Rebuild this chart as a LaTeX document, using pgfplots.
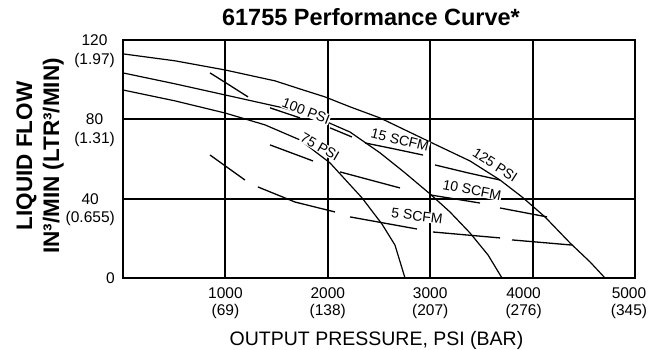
\documentclass[border=0pt]{standalone}
\usepackage{fontspec}
\setmainfont{Liberation Sans}
\usepackage{pgfplots}
\pgfplotsset{compat=1.18}
\begin{document}
\begin{tikzpicture}
\begin{axis}[
  name=ax,
  at={(0,0)}, anchor=south west,
  width=512bp, height=238bp, scale only axis,
  xmin=0, xmax=5000, ymin=0, ymax=120,
  xtick={1000,2000,3000,4000,5000},
  xticklabels={{1000\\(69)},{2000\\(138)},{3000\\(207)},{\hspace*{-18bp}4000\\\hspace*{-18bp}(276)},{\hspace*{-12bp}5000\\\hspace*{-12bp}(345)}},
  ytick={0,40,80,120},
  yticklabels={0,{40\\(0.655)},{80\\(1.31)},{120\\(1.97)}},
  major tick length=0pt,
  grid=major,
  major grid style={line width=2bp, black},
  axis line style={line width=2.6bp},
  xticklabel style={font=\fontsize{15.5bp}{17bp}\selectfont, align=center, anchor=north, inner sep=0pt, yshift=-9bp},
  yticklabel style={font=\fontsize{15.5bp}{18.5bp}\selectfont, align=center, anchor=north east, inner sep=0pt, xshift=-8bp, yshift=5.5bp},
  /pgf/number format/assume math mode=true,
  unbounded coords=jump,
  clip=false,
]
% 125 PSI
\addplot[black, line width=1.2bp] coordinates {
(0,113.0) (508,109.5) (996,104.9) (1484,99.4) (1729,95.3) (1973,91.3) (2217,86.3)
(2510,80.7) (2998,68.6) (3389,59.0) (3682,49.4) (3896,40.9) (4121,30.8) (4365,17.7) (4561,8.1) (4707,0)};
% 100 PSI
\addplot[black, line width=1.2bp] coordinates {
(0,103.4) (508,97.9) (996,92.3) (1563,85.8) (1924,80.2) (2217,73.6) (2510,63.1)
(2754,53.0) (2998,42.4) (3193,33.3) (3389,22.7) (3565,11.6) (3701,0)};
% 75 PSI
\addplot[black, line width=1.2bp] coordinates {
(0,94.8) (508,89.3) (996,83.2) (1387,77.2) (1729,69.6) (2022,58.0) (2334,40.4)
(2529,27.2) (2656,16.6) (2754,0)};
% 15 SCFM
\addplot[black, line width=1.3bp] coordinates {
(850,103.4) (1035,97.4) (1221,91.3) (1330,nan)
(1436,85.8) (1729,80.7) (1880,nan)
(2022,75.7) (2236,71.1) (2300,nan)
(2363,68.1) (2647,65.1) (2930,62.0) (2990,nan)
(3047,57.0) (3369,53.0) (3682,49.4)};
% 10 SCFM
\addplot[black, line width=1.3bp] coordinates {
(1436,67.1) (1856,59.0) (2000,nan)
(2119,53.5) (2705,45.4) (2850,nan)
(2998,41.9) (3486,37.8) (3580,nan)
(3682,35.3) (4141,30.8)};
% 5 SCFM
\addplot[black, line width=1.3bp] coordinates {
(850,62.0) (1191,49.4) (1250,nan)
(1318,45.9) (1680,38.3) (2070,33.3) (2140,nan)
(2217,30.8) (2871,24.7) (2950,nan)
(3027,23.2) (3682,20.2) (3740,nan)
(3799,19.2) (4385,16.6)};
\begin{scope}[every node/.style={fill=white, inner sep=0.5bp, font=\fontsize{14bp}{15bp}\selectfont}]
\node[rotate=-21] at (axis cs:1787,84.2) {100 PSI};
\node[rotate=-30] at (axis cs:1924,66.1) {75 PSI};
\node[rotate=-14] at (axis cs:2705,69.6) {15 SCFM};
\node[rotate=-33] at (axis cs:3633,57.0) {125 PSI};
\node[rotate=-11] at (axis cs:3408,44.4) {10 SCFM};
\node[rotate=-7] at (axis cs:2871,31.3) {5 SCFM};
\end{scope}
\end{axis}
\node[font=\fontsize{23.5bp}{26bp}\selectfont\bfseries] at ([xshift=-8bp, yshift=22.5bp]ax.north) {61755 Performance Curve*};
\node[anchor=base, font=\fontsize{19.5bp}{22bp}\selectfont] at ([xshift=-2.5bp, yshift=-67bp]ax.south) {OUTPUT PRESSURE, PSI (BAR)};
\node[rotate=90, align=center, font=\fontsize{22.5bp}{27bp}\selectfont\bfseries] at ([xshift=-83bp, yshift=3bp]ax.west) {LIQUID FLOW\\IN³/MIN (LTR³/MIN)};
\pgfresetboundingbox
\path ([shift={(-123bp,-72bp)}]ax.south west) rectangle ([shift={(20bp,40bp)}]ax.north east);
\end{tikzpicture}
\end{document}
